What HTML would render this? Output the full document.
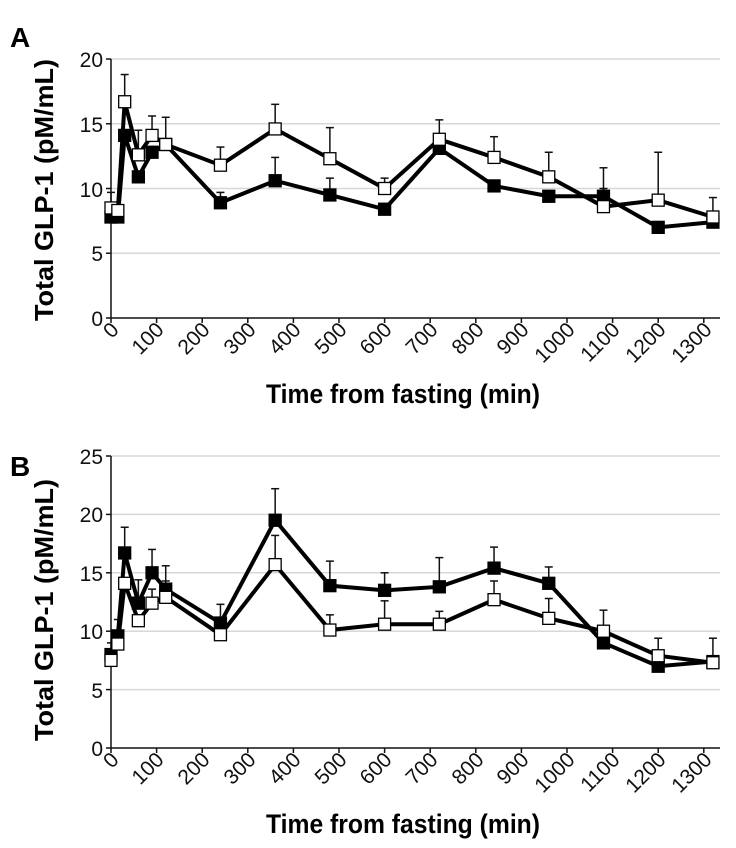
<!DOCTYPE html>
<html><head><meta charset="utf-8"><style>
html,body{margin:0;padding:0;background:#fff;}
svg{display:block;font-family:"Liberation Sans",sans-serif;}
.t{font-size:21px;fill:#111;}
.b{font-weight:bold;fill:#000;}
</style></head><body>
<svg id="s" width="736" height="848" viewBox="0 0 736 848">
<text x="10" y="47" class="b" font-size="28">A</text>
<text x="10" y="476" class="b" font-size="28">B</text>
<text class="b" font-size="26" transform="translate(53,190) rotate(-90)" text-anchor="middle" textLength="262" lengthAdjust="spacingAndGlyphs">Total GLP-1 (pM/mL)</text>
<text class="b" font-size="26" transform="translate(53,610) rotate(-90)" text-anchor="middle" textLength="262" lengthAdjust="spacingAndGlyphs">Total GLP-1 (pM/mL)</text>
<text class="b" font-size="27" x="403" y="403" text-anchor="middle" textLength="274" lengthAdjust="spacingAndGlyphs">Time from fasting (min)</text>
<text class="b" font-size="27" x="403" y="833" text-anchor="middle" textLength="274" lengthAdjust="spacingAndGlyphs">Time from fasting (min)</text>
<g class="t" text-anchor="end">
<text x="103" y="67">20</text><text x="103" y="132">15</text><text x="103" y="197">10</text><text x="103" y="261">5</text><text x="103" y="326">0</text>
<text x="103" y="464">25</text><text x="103" y="522">20</text><text x="103" y="581">15</text><text x="103" y="639">10</text><text x="103" y="698">5</text><text x="103" y="756">0</text>
</g>
<g class="t" text-anchor="end">
<text transform="translate(120,331) rotate(-45)">0</text>
<text transform="translate(165,331) rotate(-45)">100</text>
<text transform="translate(211,331) rotate(-45)">200</text>
<text transform="translate(257,331) rotate(-45)">300</text>
<text transform="translate(302,331) rotate(-45)">400</text>
<text transform="translate(348,331) rotate(-45)">500</text>
<text transform="translate(393,331) rotate(-45)">600</text>
<text transform="translate(439,331) rotate(-45)">700</text>
<text transform="translate(485,331) rotate(-45)">800</text>
<text transform="translate(530,331) rotate(-45)">900</text>
<text transform="translate(576,331) rotate(-45)">1000</text>
<text transform="translate(621,331) rotate(-45)">1100</text>
<text transform="translate(667,331) rotate(-45)">1200</text>
<text transform="translate(713,331) rotate(-45)">1300</text>
</g>
<g class="t" text-anchor="end">
<text transform="translate(120,761) rotate(-45)">0</text>
<text transform="translate(165,761) rotate(-45)">100</text>
<text transform="translate(211,761) rotate(-45)">200</text>
<text transform="translate(257,761) rotate(-45)">300</text>
<text transform="translate(302,761) rotate(-45)">400</text>
<text transform="translate(348,761) rotate(-45)">500</text>
<text transform="translate(393,761) rotate(-45)">600</text>
<text transform="translate(439,761) rotate(-45)">700</text>
<text transform="translate(485,761) rotate(-45)">800</text>
<text transform="translate(530,761) rotate(-45)">900</text>
<text transform="translate(576,761) rotate(-45)">1000</text>
<text transform="translate(621,761) rotate(-45)">1100</text>
<text transform="translate(667,761) rotate(-45)">1200</text>
<text transform="translate(713,761) rotate(-45)">1300</text>
</g>
<g id="plots"></g>
</svg>
<script>
var NS="http://www.w3.org/2000/svg",g=document.getElementById("plots");
function el(n,a){var e=document.createElementNS(NS,n);for(var k in a)e.setAttribute(k,a[k]);g.appendChild(e);return e;}
var T=[0,15,30,60,90,120,240,360,480,600,720,840,960,1080,1200,1320];
function X(t){return 111+0.456*t;}
function panel(y0,ppu,max,step,series){
  for(var v=step;v<=max;v+=step){var y=y0-v*ppu;el("line",{x1:111,x2:720,y1:y,y2:y,stroke:"#d4dada","stroke-width":1.5});}
  el("line",{x1:111,x2:111,y1:y0-max*ppu,y2:y0,stroke:"#111","stroke-width":1.5});
  el("line",{x1:111,x2:720,y1:y0,y2:y0,stroke:"#111","stroke-width":1.5});
  for(var v=0;v<=max;v+=step){var y=y0-v*ppu;el("line",{x1:106,x2:111,y1:y,y2:y,stroke:"#111","stroke-width":1.5});}
  for(var t=0;t<=1300;t+=100){el("line",{x1:X(t),x2:X(t),y1:y0,y2:y0+5,stroke:"#111","stroke-width":1.5});}
  series.forEach(function(s){
    s.v.forEach(function(v,i){var e=s.e[i];if(e>v){var x=X(T[i]);el("line",{x1:x,x2:x,y1:y0-v*ppu,y2:y0-e*ppu,stroke:"#111","stroke-width":1.5});el("line",{x1:x-4,x2:x+4,y1:y0-e*ppu,y2:y0-e*ppu,stroke:"#111","stroke-width":1.5});}});
  });
  series.forEach(function(s){
    el("polyline",{points:s.v.map(function(v,i){return X(T[i])+","+(y0-v*ppu);}).join(" "),fill:"none",stroke:"#000","stroke-width":4,"stroke-linejoin":"miter"});
  });
  series.forEach(function(s){
    s.v.forEach(function(v,i){el("rect",{x:X(T[i])-6,y:y0-v*ppu-6,width:12,height:12,fill:s.f,stroke:"#000","stroke-width":1.3});});
  });
}
panel(318,12.95,20,5,[
 {f:"#000",v:[7.8,7.8,14.1,10.9,12.8,13.4,8.9,10.6,9.5,8.4,13.1,10.2,9.4,9.4,7,7.4],
  e:[9.7,0,0,0,0,0,9.7,12.4,10.8,0,0,0,0,10,0,0]},
 {f:"#fff",v:[8.5,8.3,16.7,12.6,14.1,13.4,11.8,14.6,12.3,10,13.8,12.4,10.9,8.6,9.1,7.8],
  e:[0,0,18.8,14.5,15.6,15.5,13.2,16.5,14.7,10.8,15.3,14,12.8,11.6,12.8,9.3]}
]);
panel(748,11.68,25,5,[
 {f:"#000",v:[8,9.6,16.7,12.4,15,13.6,10.7,19.5,13.9,13.5,13.8,15.4,14.1,9,7,7.4],
  e:[9,11,18.9,14.4,17,15.6,12.3,22.2,16,15,16.3,17.2,15.5,0,0,0]},
 {f:"#fff",v:[7.5,8.9,14.1,10.9,12.4,12.9,9.7,15.7,10.1,10.6,10.6,12.7,11.1,10,7.9,7.3],
  e:[0,0,0,0,13.6,14.3,0,18.2,11.4,12.6,11.7,14.3,12.8,11.8,9.4,9.4]}
]);
</script>
</body></html>
